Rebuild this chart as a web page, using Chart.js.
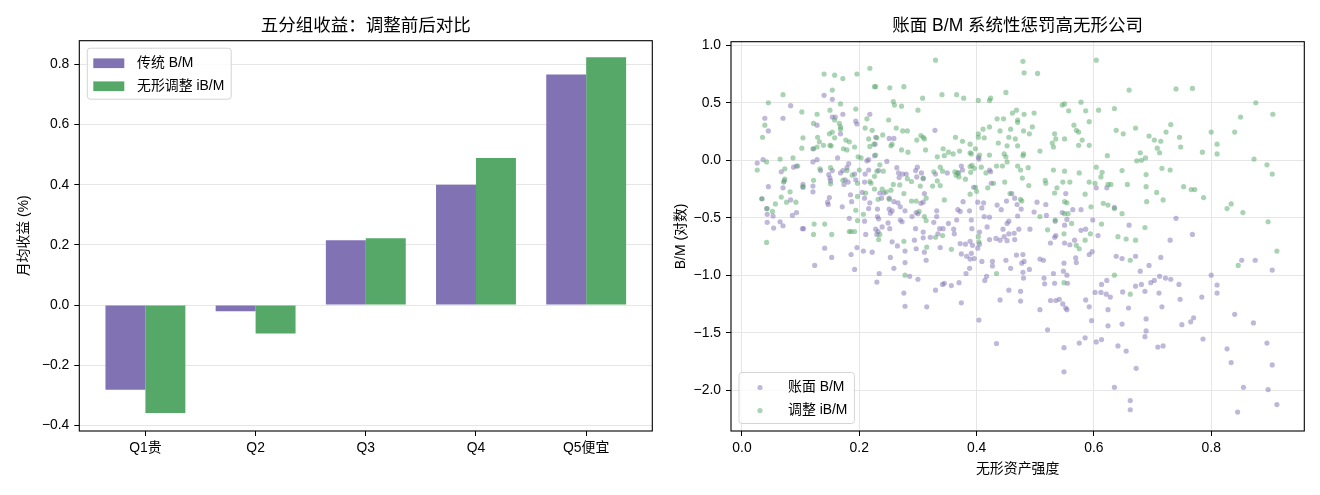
<!DOCTYPE html>
<html>
<head>
<meta charset="utf-8">
<script src="https://cdn.jsdelivr.net/npm/chart.js@4.4.1/dist/chart.umd.min.js"></script>
<style>
  body { margin: 0; background: #fff; }
  canvas { position: absolute; top: 0; }
</style>
</head>
<body>
<canvas id="bars" width="660" height="495" style="left:0"></canvas>
<canvas id="scatter" width="660" height="495" style="left:660px"></canvas>
<script>
// ---- data: left panel (quintile returns, % per month) ----
const quintiles = ["Q1贵", "Q2", "Q3", "Q4", "Q5便宜"];
const retBM  = [-0.282, -0.021, 0.215, 0.400, 0.767];
const retIBM = [-0.359, -0.095, 0.222, 0.489, 0.824];
const barYTicks = [-0.4, -0.2, 0.0, 0.2, 0.4, 0.6, 0.8];

// ---- data: right panel (intangible intensity vs log B/M) ----
const scatterXTicks = [0.0, 0.2, 0.4, 0.6, 0.8];
const scatterYTicks = [-2.0, -1.5, -1.0, -0.5, 0.0, 0.5, 1.0];

const bmPoints = [
  [0.14,0.565],[0.154,0.53],[0.083,0.475],[0.039,0.365],[0.07,0.365],[0.045,0.255],[0.154,0.375],[0.159,0.375],
  [0.172,0.40],[0.218,0.40],[0.194,0.34],[0.196,0.315],[0.128,0.305],[0.168,0.23],[0.329,0.26],[0.251,0.19],
  [0.259,0.19],[0.228,0.20],[0.227,0.14],[0.122,0.10],[0.128,0.005],[0.121,-0.015],[0.026,-0.025],[0.036,0.005],
  [0.163,0.02],[0.182,-0.03],[0.213,-0.005],[0.216,0.005],[0.226,0.04],[0.247,-0.01],[0.264,-0.065],[0.267,-0.11],
  [0.274,-0.12],[0.28,-0.12],[0.268,-0.15],[0.298,-0.145],[0.309,-0.16],[0.306,-0.11],[0.33,-0.12],[0.35,-0.11],
  [0.368,-0.11],[0.424,-0.10],[0.422,-0.085],[0.403,0.025],[0.404,0.01],[0.376,-0.085],[0.395,-0.235],[0.425,-0.2],
  [0.374,-0.05],[0.299,-0.06],[0.296,-0.09],[0.233,-0.09],[0.216,-0.085],[0.21,-0.12],[0.209,-0.19],[0.194,-0.17],
  [0.192,-0.12],[0.179,-0.065],[0.172,-0.09],[0.168,-0.11],[0.176,-0.17],[0.174,-0.21],[0.181,-0.19],[0.154,-0.09],
  [0.148,-0.125],[0.151,-0.18],[0.15,-0.155],[0.134,-0.09],[0.121,-0.225],[0.121,-0.275],[0.104,-0.21],[0.104,-0.235],
  [0.093,-0.05],[0.088,-0.06],[0.067,-0.10],[0.072,-0.18],[0.07,-0.24],[0.045,-0.23],[0.034,-0.335],[0.042,-0.42],
  [0.043,-0.47],[0.053,-0.485],[0.043,-0.54],[0.065,-0.535],[0.07,-0.57],[0.054,-0.59],[0.093,-0.455],[0.086,-0.48],
  [0.105,-0.595],[0.083,-0.345],[0.149,-0.325],[0.146,-0.365],[0.147,-0.385],[0.171,-0.405],[0.185,-0.30],[0.205,-0.28],
  [0.209,-0.33],[0.187,-0.36],[0.218,-0.37],[0.216,-0.42],[0.231,-0.425],[0.235,-0.285],[0.238,-0.33],[0.242,-0.285],
  [0.251,-0.33],[0.251,-0.425],[0.256,-0.44],[0.259,-0.36],[0.253,-0.46],[0.266,-0.37],[0.27,-0.405],[0.278,-0.44],
  [0.27,-0.52],[0.29,-0.49],[0.3,-0.465],[0.305,-0.375],[0.297,-0.455],[0.311,-0.29],[0.309,-0.365],[0.332,-0.44],
  [0.332,-0.49],[0.327,-0.54],[0.337,-0.595],[0.343,-0.595],[0.361,-0.6],[0.366,-0.52],[0.372,-0.445],[0.368,-0.43],
  [0.377,-0.36],[0.388,-0.44],[0.391,-0.52],[0.402,-0.365],[0.412,-0.37],[0.409,-0.415],[0.413,-0.49],[0.422,-0.495],
  [0.418,-0.58],[0.435,-0.39],[0.442,-0.43],[0.451,-0.355],[0.46,-0.29],[0.465,-0.33],[0.469,-0.385],[0.476,-0.425],
  [0.455,-0.53],[0.452,-0.55],[0.47,-0.485],[0.445,-0.60],[0.455,-0.64],[0.464,-0.635],[0.472,-0.60],[0.491,-0.60],
  [0.498,-0.45],[0.503,-0.365],[0.518,-0.385],[0.519,-0.48],[0.534,-0.53],[0.546,-0.455],[0.554,-0.515],[0.564,-0.43],
  [0.578,-0.43],[0.55,-0.565],[0.533,-0.67],[0.535,-0.655],[0.526,-0.72],[0.55,-0.72],[0.559,-0.735],[0.567,-0.695],
  [0.586,-0.60],[0.607,-0.655],[0.604,-0.24],[0.635,-0.41],[0.66,-0.565],[0.597,-0.795],[0.592,-0.82],[0.57,-0.89],
  [0.569,-0.85],[0.73,-0.695],[0.714,-0.845],[0.74,-0.505],[0.768,-0.645],[0.875,-0.87],[0.852,-0.87],[0.904,-0.955],
  [0.8,-1.0],[0.81,-1.085],[0.81,-1.155],[0.784,-1.19],[0.745,-1.08],[0.747,-1.21],[0.716,-1.275],[0.711,-1.155],
  [0.703,-1.045],[0.712,-1.01],[0.722,-1.025],[0.731,-1.035],[0.694,-0.915],[0.679,-0.965],[0.681,-1.08],[0.671,-1.095],
  [0.687,-1.14],[0.689,-1.38],[0.689,-1.485],[0.687,-1.535],[0.671,-0.835],[0.648,-0.855],[0.638,-0.835],[0.649,-1.145],
  [0.659,-1.285],[0.648,-1.425],[0.655,-1.66],[0.641,-1.615],[0.635,-1.975],[0.662,-2.09],[0.662,-2.17],[0.672,-1.81],
  [0.624,-1.30],[0.624,-1.44],[0.622,-1.045],[0.613,-1.08],[0.612,-1.15],[0.621,-1.165],[0.628,-1.19],[0.602,-1.15],
  [0.604,-1.58],[0.613,-1.56],[0.596,-1.395],[0.592,-1.275],[0.586,-1.215],[0.585,-1.545],[0.575,-1.59],[0.555,-1.07],
  [0.554,-1.0],[0.549,-0.895],[0.548,-0.965],[0.531,-0.985],[0.533,-1.07],[0.535,-1.22],[0.526,-1.22],[0.541,-1.21],
  [0.547,-1.25],[0.552,-1.285],[0.554,-1.30],[0.515,-1.025],[0.516,-1.075],[0.508,-0.86],[0.514,-0.87],[0.508,-1.30],
  [0.521,-1.475],[0.549,-1.63],[0.549,-1.84],[0.434,-1.595],[0.404,-1.39],[0.479,-0.82],[0.481,-0.88],[0.477,-0.895],
  [0.479,-0.975],[0.49,-0.95],[0.48,-1.025],[0.475,-1.14],[0.475,-1.225],[0.44,-1.215],[0.455,-1.13],[0.458,-0.94],
  [0.468,-0.825],[0.45,-0.87],[0.427,-0.88],[0.427,-0.92],[0.417,-1.01],[0.414,-1.045],[0.409,-0.88],[0.405,-0.73],
  [0.402,-0.765],[0.396,-0.855],[0.391,-0.81],[0.393,-0.74],[0.389,-0.705],[0.381,-0.73],[0.374,-0.815],[0.383,-0.835],
  [0.389,-0.86],[0.388,-0.94],[0.382,-0.985],[0.37,-1.065],[0.357,-1.09],[0.345,-1.07],[0.342,-1.08],[0.33,-1.13],
  [0.314,-0.87],[0.311,-0.80],[0.297,-0.77],[0.294,-0.695],[0.309,-0.675],[0.321,-0.67],[0.309,-0.625],[0.286,-1.01],
  [0.3,-1.035],[0.276,-1.155],[0.278,-1.27],[0.315,-1.275],[0.374,-1.24],[0.278,-0.89],[0.278,-0.79],[0.265,-0.745],
  [0.256,-0.71],[0.259,-0.94],[0.253,-0.845],[0.234,-0.985],[0.23,-1.06],[0.222,-0.80],[0.207,-0.79],[0.196,-0.76],
  [0.192,-0.95],[0.186,-0.82],[0.23,-0.645],[0.232,-0.62],[0.228,-0.60],[0.239,-0.58],[0.252,-0.595],[0.249,-0.545],
  [0.211,-0.645],[0.209,-0.53],[0.183,-0.505],[0.141,-0.765],[0.153,-0.845],[0.124,-0.915],[0.103,-0.595],[0.233,-0.51],
  [0.231,-0.49],[0.273,-0.535],[0.296,-0.595],[0.338,-0.76],[0.334,-0.64],[0.352,-0.55],[0.362,-0.64],[0.372,-0.725],
  [0.392,-0.595],[0.405,-0.625],[0.422,-0.69],[0.433,-0.68],[0.44,-0.695],[0.447,-0.665],[0.452,-0.70],[0.465,-0.69],
  [0.697,-1.065],[0.75,-1.43],[0.765,-1.405],[0.77,-1.37],[0.786,-1.555],[0.827,-1.64],[0.834,-1.76],[0.84,-1.34],
  [0.872,-1.415],[0.855,-1.975],[0.845,-2.19],[0.895,-1.59],[0.904,-1.78],[0.897,-1.995],[0.912,-2.125],[0.709,-1.625],
  [0.718,-1.615],[0.622,-0.24],[0.552,-0.29],[0.598,-0.52],[0.578,-0.61]
];

const ibmPoints = [
  [0.33,0.87],[0.479,0.86],[0.604,0.87],[0.481,0.76],[0.504,0.755],[0.218,0.80],[0.14,0.75],[0.158,0.74],
  [0.172,0.71],[0.196,0.75],[0.226,0.64],[0.228,0.64],[0.252,0.63],[0.276,0.64],[0.45,0.59],[0.341,0.57],
  [0.366,0.57],[0.378,0.54],[0.403,0.52],[0.422,0.52],[0.424,0.54],[0.308,0.54],[0.66,0.61],[0.74,0.62],
  [0.768,0.625],[0.07,0.57],[0.045,0.50],[0.154,0.61],[0.168,0.49],[0.15,0.435],[0.102,0.42],[0.128,0.40],
  [0.194,0.445],[0.258,0.51],[0.26,0.48],[0.272,0.47],[0.30,0.435],[0.578,0.505],[0.55,0.49],[0.546,0.48],
  [0.557,0.43],[0.586,0.43],[0.608,0.435],[0.635,0.45],[0.876,0.50],[0.905,0.40],[0.85,0.375],[0.84,0.245],
  [0.80,0.245],[0.81,0.14],[0.81,0.055],[0.785,0.07],[0.746,0.20],[0.748,0.115],[0.731,0.31],[0.723,0.245],
  [0.714,0.165],[0.703,0.175],[0.694,0.21],[0.712,0.065],[0.708,0.105],[0.679,0.065],[0.671,0.28],[0.65,0.23],
  [0.638,0.26],[0.623,0.04],[0.681,0.0],[0.673,-0.005],[0.688,0.02],[0.592,0.335],[0.592,0.13],[0.574,0.245],
  [0.57,0.26],[0.566,0.305],[0.58,0.175],[0.574,0.13],[0.55,0.185],[0.533,0.23],[0.535,0.185],[0.529,0.15],
  [0.531,0.115],[0.508,0.08],[0.495,0.29],[0.49,0.23],[0.48,0.255],[0.47,0.33],[0.47,0.35],[0.461,0.41],
  [0.468,0.435],[0.481,0.40],[0.498,0.41],[0.435,0.36],[0.446,0.36],[0.422,0.29],[0.411,0.27],[0.403,0.23],
  [0.403,0.20],[0.413,0.195],[0.455,0.20],[0.466,0.185],[0.47,0.125],[0.452,0.125],[0.458,0.27],[0.437,0.15],
  [0.44,0.255],[0.389,0.14],[0.398,0.10],[0.391,0.055],[0.376,0.165],[0.364,0.20],[0.352,0.07],[0.343,0.10],
  [0.333,0.03],[0.345,0.04],[0.36,0.055],[0.371,0.08],[0.389,0.065],[0.405,0.045],[0.422,0.045],[0.447,0.055],
  [0.45,0.03],[0.48,0.055],[0.479,0.04],[0.313,0.09],[0.311,0.185],[0.305,0.215],[0.309,0.20],[0.298,0.175],
  [0.282,0.255],[0.274,0.255],[0.263,0.28],[0.272,0.09],[0.283,0.07],[0.256,0.14],[0.254,0.125],[0.25,0.35],
  [0.24,0.22],[0.23,0.195],[0.222,0.26],[0.216,0.185],[0.213,0.36],[0.21,0.28],[0.218,0.12],[0.225,0.14],
  [0.228,0.045],[0.198,0.03],[0.203,0.02],[0.192,0.115],[0.183,0.16],[0.177,0.175],[0.173,0.10],[0.179,0.09],
  [0.168,0.27],[0.168,0.29],[0.158,0.195],[0.154,0.245],[0.149,0.23],[0.15,0.13],[0.152,0.125],[0.139,0.13],
  [0.132,0.16],[0.129,0.20],[0.122,0.32],[0.128,0.115],[0.121,0.10],[0.104,0.195],[0.102,0.105],[0.166,0.32],
  [0.158,0.35],[0.035,0.20],[0.039,0.305],[0.065,0.01],[0.042,-0.015],[0.087,0.02],
  [0.026,-0.085],[0.073,-0.075],[0.095,-0.05],[0.133,-0.075],[0.151,-0.065],[0.122,-0.175],[0.104,-0.23],[0.082,-0.275],
  [0.073,-0.165],[0.071,-0.19],[0.067,-0.32],[0.076,-0.365],[0.092,-0.365],[0.057,-0.38],[0.052,-0.445],[0.043,-0.42],
  [0.034,-0.335],[0.042,-0.715],[0.122,-0.645],[0.141,-0.555],[0.153,-0.645],[0.151,-0.205],[0.172,-0.175],[0.179,-0.09],
  [0.188,-0.13],[0.2,-0.085],[0.197,-0.2],[0.197,-0.315],[0.194,-0.435],[0.197,-0.525],[0.186,-0.62],[0.192,-0.62],
  [0.207,-0.47],[0.211,-0.285],[0.218,-0.185],[0.226,-0.14],[0.23,-0.095],[0.235,-0.04],[0.241,-0.095],[0.22,-0.2],
  [0.226,-0.25],[0.232,-0.34],[0.239,-0.25],[0.246,-0.275],[0.251,-0.34],[0.254,-0.26],[0.258,-0.21],[0.269,-0.215],
  [0.276,-0.29],[0.282,-0.16],[0.289,-0.185],[0.289,-0.355],[0.297,-0.355],[0.302,-0.445],[0.311,-0.49],[0.314,-0.525],
  [0.314,-0.33],[0.304,-0.225],[0.309,-0.155],[0.325,-0.225],[0.333,-0.18],[0.327,-0.1],[0.338,-0.06],[0.342,-0.095],
  [0.345,-0.345],[0.338,-0.22],[0.365,-0.13],[0.369,-0.11],[0.363,-0.10],[0.37,-0.145],[0.381,-0.165],[0.389,-0.055],
  [0.392,-0.045],[0.396,-0.07],[0.39,-0.105],[0.389,-0.295],[0.398,-0.235],[0.4,-0.27],[0.408,-0.06],[0.416,-0.11],
  [0.419,-0.24],[0.429,-0.2],[0.434,-0.05],[0.444,-0.05],[0.452,-0.015],[0.448,-0.19],[0.457,-0.29],[0.47,-0.05],
  [0.475,-0.085],[0.478,-0.155],[0.477,-0.355],[0.475,-0.34],[0.488,-0.065],[0.489,-0.22],[0.508,-0.49],[0.517,-0.175],
  [0.518,-0.2],[0.531,-0.085],[0.533,-0.285],[0.537,-0.24],[0.55,-0.095],[0.547,-0.19],[0.554,-0.37],[0.559,-0.19],
  [0.55,-0.36],[0.534,-0.52],[0.55,-0.465],[0.556,-0.465],[0.562,-0.55],[0.575,-0.11],[0.585,-0.295],[0.592,-0.19],
  [0.595,-0.405],[0.602,-0.2],[0.614,-0.105],[0.612,-0.145],[0.604,-0.06],[0.624,-0.21],[0.629,-0.21],[0.616,-0.375],
  [0.624,-0.39],[0.635,-0.42],[0.648,-0.465],[0.657,-0.21],[0.648,-0.09],[0.613,-0.555],[0.641,-0.665],[0.655,-0.685],
  [0.671,-0.695],[0.687,-0.585],[0.689,-0.23],[0.689,-0.125],[0.69,-0.36],[0.707,-0.28],[0.716,-0.07],[0.718,-0.345],
  [0.73,-0.085],[0.753,-0.23],[0.766,-0.255],[0.772,-0.255],[0.787,-0.325],[0.827,-0.42],[0.834,-0.38],[0.854,-0.455],
  [0.873,0.01],[0.895,-0.04],[0.904,-0.12],[0.897,-0.535],[0.912,-0.79],[0.846,-0.915],[0.662,-0.87],[0.635,-1.0],
  [0.662,-1.165],[0.549,-1.065],[0.434,-0.985],[0.278,-1.0],[0.594,-0.64],[0.575,-0.77],[0.57,-0.74],[0.585,-0.695],
  [0.549,-0.64],[0.521,-0.605],[0.403,-0.665],[0.404,-0.71],[0.357,-0.775],[0.315,-0.755],[0.276,-0.705],[0.233,-0.69],
  [0.235,-0.645],[0.33,-0.67],[0.342,-0.655],[0.183,-0.62],[0.123,-0.555]
];

const PURPLE = "#8172b3";
const GREEN = "#55a868";
const FONT = '"Liberation Sans", "Noto Sans CJK SC", sans-serif';
const GRID = "#e6e6e6";

Chart.defaults.font.family = FONT;
Chart.defaults.font.size = 13.9;
Chart.defaults.color = "#000";
Chart.defaults.animation = false;

const fmt = v => v.toFixed(1).replace("-", "\u2212");

// frame + panel title, matplotlib style
const framePlugin = {
    id: "frame",
    afterDraw(chart, args, opts) {
        const {ctx, chartArea: ca} = chart;
        ctx.save();
        ctx.strokeStyle = "#000";
        ctx.lineWidth = 1.1;
        ctx.strokeRect(ca.left, ca.top, ca.right - ca.left, ca.bottom - ca.top);
        ctx.font = "17.5px " + FONT;
        ctx.textAlign = "center";
        ctx.textBaseline = "middle";
        ctx.fillStyle = "#000";
        ctx.fillText(opts.text, (ca.left + ca.right) / 2, 26);
        ctx.restore();
    }
};

// legend box inside the axes
const boxLegend = {
    id: "boxLegend",
    afterDraw(chart, args, opts) {
        const {ctx, chartArea: ca} = chart;
        const items = chart.data.datasets.map(d => ({ text: d.label, color: d.legendColor }));
        ctx.save();
        ctx.font = "13.9px " + FONT;
        const textW = Math.max(...items.map(i => ctx.measureText(i.text).width));
        const w = opts.textOffset + textW + 7;
        const h = 51;
        const x = ca.left + 8;
        const y = opts.corner === "top" ? ca.top + 7.5 : ca.bottom - 7.5 - h;
        const r = 3;
        ctx.beginPath();
        ctx.moveTo(x + r, y);
        ctx.arcTo(x + w, y, x + w, y + h, r);
        ctx.arcTo(x + w, y + h, x, y + h, r);
        ctx.arcTo(x, y + h, x, y, r);
        ctx.arcTo(x, y, x + w, y, r);
        ctx.closePath();
        ctx.fillStyle = "rgba(255,255,255,0.8)";
        ctx.fill();
        ctx.strokeStyle = "#d4d4d4";
        ctx.lineWidth = 1;
        ctx.stroke();
        items.forEach((it, i) => {
            const cy = y + 15 + i * 23;
            ctx.fillStyle = it.color;
            if (opts.marker === "patch") {
                ctx.fillRect(x + 6, cy - 4.8, 31, 9.7);
            } else {
                ctx.beginPath();
                ctx.arc(x + 21, cy, 2.6, 0, Math.PI * 2);
                ctx.fill();
            }
            ctx.fillStyle = "#000";
            ctx.textAlign = "left";
            ctx.textBaseline = "middle";
            ctx.fillText(it.text, x + opts.textOffset, cy);
        });
        ctx.restore();
    }
};

// left: grouped bars
new Chart(document.getElementById("bars"), {
    type: "bar",
    data: {
        datasets: [
            { label: "传统 B/M", data: retBM.map((v, i) => ({ x: i, y: v })),
              backgroundColor: PURPLE, legendColor: PURPLE },
            { label: "无形调整 iB/M", data: retIBM.map((v, i) => ({ x: i, y: v })),
              backgroundColor: GREEN, legendColor: GREEN }
        ]
    },
    options: {
        responsive: false,
        layout: { padding: { top: 40.7, right: 7.7, bottom: 0, left: 0 } },
        datasets: { bar: { categoryPercentage: 0.725, barPercentage: 1.0 } },
        plugins: {
            legend: { display: false },
            tooltip: { enabled: false },
            frame: { text: "五分组收益：调整前后对比" },
            boxLegend: { corner: "top", marker: "patch", textOffset: 49.7 }
        },
        scales: {
            x: {
                type: "linear", min: -0.6, max: 4.6, offset: false,
                afterBuildTicks: s => { s.ticks = quintiles.map((q, i) => ({ value: i })); },
                afterFit: s => { s.height = 64; },
                ticks: { callback: v => quintiles[v], autoSkip: false, maxRotation: 0, padding: 4 },
                grid: { offset: false, drawOnChartArea: false, tickLength: 5, tickColor: "#000" },
                border: { display: false }
            },
            y: {
                min: -0.419, max: 0.879,
                afterBuildTicks: s => { s.ticks = barYTicks.map(v => ({ value: v })); },
                afterFit: s => { s.width = 79.3; },
                ticks: { callback: v => fmt(v), padding: 5 },
                grid: { color: GRID, lineWidth: 1, tickLength: 5, tickColor: "#000" },
                border: { display: false },
                title: { display: true, text: "月均收益 (%)", padding: { top: 15.7, bottom: 0 } }
            }
        }
    },
    plugins: [framePlugin, boxLegend]
});

// right: scatter
new Chart(document.getElementById("scatter"), {
    type: "scatter",
    data: {
        datasets: [
            { label: "账面 B/M", data: bmPoints.map(([x, y]) => ({ x, y })), order: 2,
              backgroundColor: "rgba(129,114,179,0.5)", legendColor: "rgba(129,114,179,0.5)",
              pointRadius: 2.6, borderWidth: 0 },
            { label: "调整 iB/M", data: ibmPoints.map(([x, y]) => ({ x, y })), order: 1,
              backgroundColor: "rgba(85,168,104,0.5)", legendColor: "rgba(85,168,104,0.5)",
              pointRadius: 2.6, borderWidth: 0 }
        ]
    },
    options: {
        responsive: false,
        layout: { padding: { top: 41.7, right: 15.7, bottom: 0, left: 0 } },
        plugins: {
            legend: { display: false },
            tooltip: { enabled: false },
            frame: { text: "账面 B/M 系统性惩罚高无形公司" },
            boxLegend: { corner: "bottom", marker: "dot", textOffset: 49 }
        },
        scales: {
            x: {
                min: -0.0187, max: 0.9587,
                afterBuildTicks: s => { s.ticks = scatterXTicks.map(v => ({ value: v })); },
                afterFit: s => { s.height = 64; },
                ticks: { callback: v => fmt(v), autoSkip: false, maxRotation: 0, padding: 4 },
                grid: { color: GRID, lineWidth: 1, tickLength: 5, tickColor: "#000" },
                border: { display: false },
                title: { display: true, text: "无形资产强度", padding: { top: 0, bottom: 17.6 } }
            },
            y: {
                min: -2.355, max: 1.031,
                afterBuildTicks: s => { s.ticks = scatterYTicks.map(v => ({ value: v })); },
                afterFit: s => { s.width = 71; },
                ticks: { callback: v => fmt(v), padding: 5 },
                grid: { color: GRID, lineWidth: 1, tickLength: 5, tickColor: "#000" },
                border: { display: false },
                title: { display: true, text: "B/M (对数)", padding: { top: 12.7, bottom: 0 } }
            }
        }
    },
    plugins: [framePlugin, boxLegend]
});
</script>
</body>
</html>
